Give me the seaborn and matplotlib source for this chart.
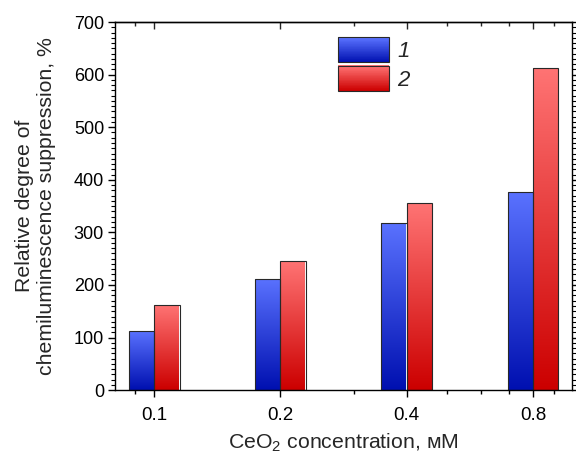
import numpy as np
import pandas as pd
import matplotlib
matplotlib.use("Agg")
import matplotlib.pyplot as plt
import seaborn as sns
from matplotlib.patches import Rectangle
from matplotlib.legend_handler import HandlerBase
from matplotlib.ticker import FixedLocator, FixedFormatter, NullFormatter, MultipleLocator
from matplotlib.colors import to_rgb

# ---- data ----
concentrations = [0.1, 0.2, 0.4, 0.8]
series_1 = [112, 212, 318, 377]
series_2 = [162, 245, 355, 613]
series_names = ["1", "2"]
x_tick_labels = ["0.1", "0.2", "0.4", "0.8"]

sns.set_style("white")
plt.rcParams["font.family"] = ["Liberation Sans", "DejaVu Sans"]
plt.rcParams["mathtext.fontset"] = "custom"
plt.rcParams["mathtext.rm"] = "Liberation Sans"
plt.rcParams["mathtext.default"] = "regular"

df = pd.DataFrame({
    "conc": concentrations * 2,
    "value": series_1 + series_2,
    "series": [series_names[0]] * 4 + [series_names[1]] * 4,
})

grad_colors = {
    "1": ("#5a72ff", "#0010b0"),   # top, bottom
    "2": ("#ff7474", "#cc0000"),
}

fig = plt.figure(figsize=(5.76, 4.59), dpi=100)
ax = fig.add_axes([0.2, 0.150, 0.793, 0.802])

sns.barplot(data=df, x="conc", y="value", hue="series", native_scale=True,
            log_scale=(True, False), width=0.4, gap=0, dodge=True,
            palette={"1": "#2040e0", "2": "#f04040"}, errorbar=None,
            edgecolor="#282828", linewidth=0.8, legend=False, ax=ax)

def gradient_array(top, bottom, n=256):
    t = np.linspace(0, 1, n)[:, None]
    a = np.array(to_rgb(top)); b = np.array(to_rgb(bottom))
    arr = a[None, :] * (1 - t) + b[None, :] * t
    return arr[:, None, :]

bar_patches = [p for p in ax.patches if isinstance(p, Rectangle)]
for i, p in enumerate(bar_patches):
    key = "1" if i < len(concentrations) else "2"
    top, bottom = grad_colors[key]
    x0 = p.get_x(); w = p.get_width(); h = p.get_height()
    im = ax.imshow(gradient_array(top, bottom), extent=[x0, x0 + w, 0, h],
                   aspect="auto", origin="upper", zorder=1.5, interpolation="bilinear")
    im.set_clip_path(p)
    p.set_facecolor("none")
    p.set_zorder(2)

ax.set_xscale("log")
ax.set_xlim(0.0807, 0.991)
ax.set_ylim(0, 700)
ax.set_aspect("auto")

ax.xaxis.set_major_locator(FixedLocator(concentrations))
ax.xaxis.set_major_formatter(FixedFormatter(x_tick_labels))
ax.xaxis.set_minor_locator(FixedLocator([0.09, 0.3, 0.5, 0.6, 0.7, 0.9]))
ax.xaxis.set_minor_formatter(NullFormatter())
ax.yaxis.set_major_locator(MultipleLocator(100))
ax.yaxis.set_minor_locator(MultipleLocator(10))

for s in ax.spines.values():
    s.set_color("black")
    s.set_linewidth(1.0)

ax.tick_params(axis="x", which="both", bottom=True, top=False, direction="out",
               labelsize=13.5, colors="black", pad=7)
ax.tick_params(axis="x", which="major", length=5, width=1)
ax.tick_params(axis="x", which="minor", length=3, width=1)
ax.tick_params(axis="y", which="both", left=True, right=True, direction="out",
               labelsize=13, colors="black", pad=3)
ax.tick_params(axis="y", which="major", length=5, width=1)
ax.tick_params(axis="y", which="minor", length=3, width=0.8)

sec = ax.secondary_xaxis("top")
sec.xaxis.set_major_locator(FixedLocator(concentrations))
sec.xaxis.set_minor_locator(FixedLocator([0.09, 0.3, 0.5, 0.6, 0.7, 0.9]))
sec.xaxis.set_major_formatter(NullFormatter())
sec.xaxis.set_minor_formatter(NullFormatter())
sec.tick_params(axis="x", which="both", direction="in", labeltop=False)
sec.tick_params(axis="x", which="major", length=5, width=1)
sec.tick_params(axis="x", which="minor", length=3, width=1)
sec.spines["top"].set_linewidth(1.0)

ax.set_xlabel("CeO$_2$ concentration, мМ", fontsize=15.3, labelpad=6)
ax.set_ylabel("Relative degree of\nchemiluminescence suppression, %", fontsize=15.3,
              labelpad=13, linespacing=1.15)


class GradHandler(HandlerBase):
    def __init__(self, top, bottom):
        super().__init__()
        self.top = np.array(to_rgb(top)); self.bottom = np.array(to_rgb(bottom))

    def create_artists(self, legend, orig_handle, xdescent, ydescent, width, height,
                       fontsize, trans):
        n = 40
        arts = []
        for k in range(n):
            t = k / (n - 1)
            c = self.bottom * (1 - t) + self.top * t
            arts.append(Rectangle((-xdescent, -ydescent + k * height / n), width,
                                  height / n + 0.3, facecolor=c, edgecolor="none",
                                  transform=trans))
        arts.append(Rectangle((-xdescent, -ydescent), width, height, facecolor="none",
                              edgecolor="#282828", linewidth=0.8, transform=trans))
        return arts


h1 = Rectangle((0, 0), 1, 1)
h2 = Rectangle((0, 0), 1, 1)
leg = ax.legend([h1, h2], series_names,
                handler_map={h1: GradHandler(*grad_colors["1"]),
                             h2: GradHandler(*grad_colors["2"])},
                loc="upper left", bbox_to_anchor=(0.488, 0.958), frameon=False,
                borderpad=0, borderaxespad=0,
                prop={"size": 16, "style": "italic"}, handlelength=2.3,
                handleheight=1.354, labelspacing=0.15, handletextpad=0.36)

fig.savefig("out.png", dpi=100)
